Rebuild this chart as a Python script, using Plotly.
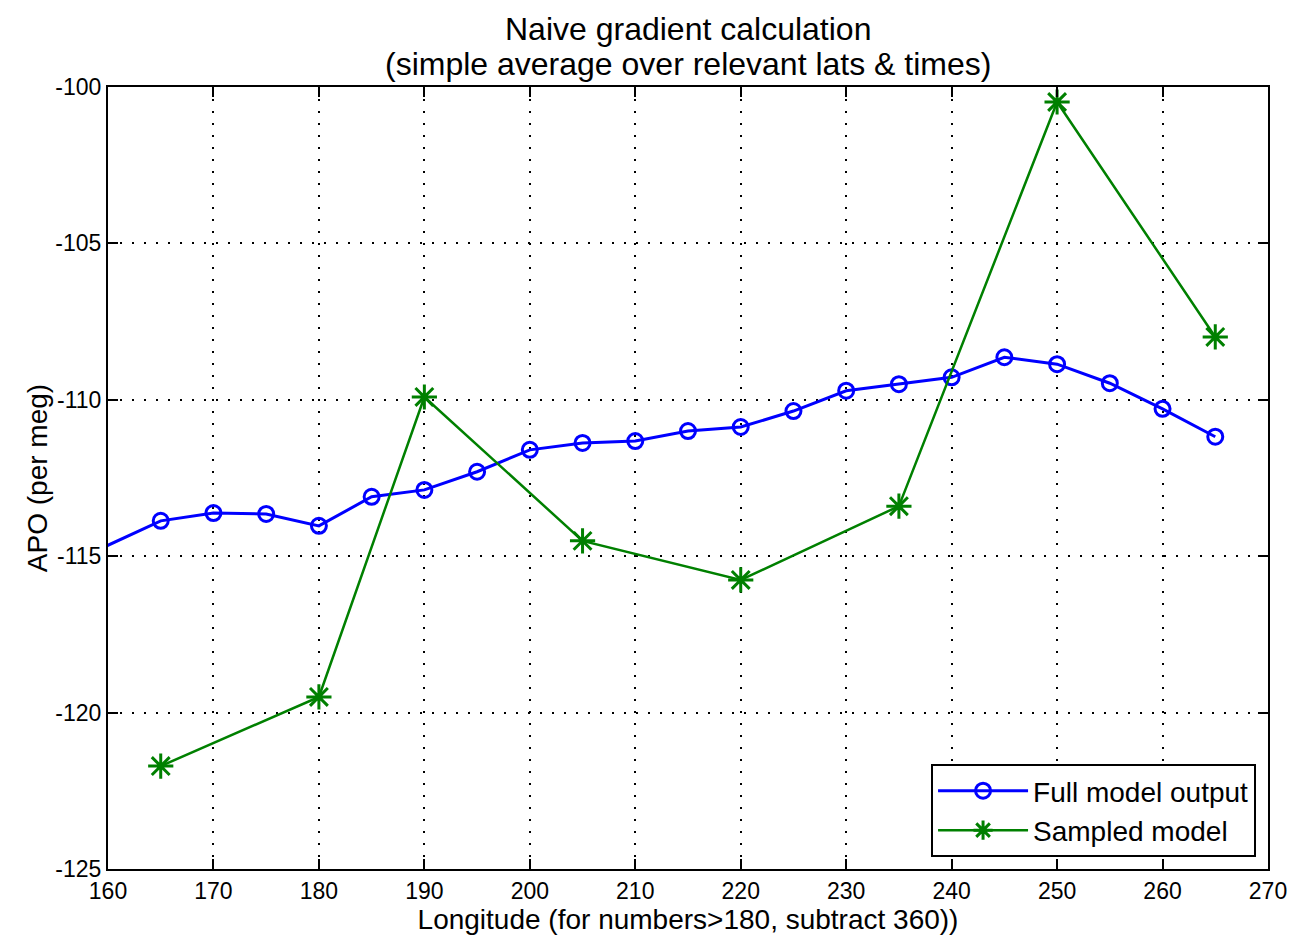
import plotly.graph_objects as go

# Data
full_lon = [155, 165, 170, 175, 180, 185, 190, 195, 200, 205, 210, 215, 220, 225, 230, 235, 240, 245, 250, 255, 260, 265]
full_apo = [-115.43, -113.87, -113.62, -113.65, -114.03, -113.1, -112.88, -112.3, -111.6, -111.38, -111.32,
            -111.0, -110.87, -110.36, -109.71, -109.5, -109.28, -108.64, -108.86, -109.47, -110.29, -111.18]
samp_lon = [165, 180, 190, 205, 220, 235, 250, 265]
samp_apo = [-121.71, -119.5, -109.91, -114.51, -115.76, -113.4, -100.48, -107.99]

x_ticks = [160, 170, 180, 190, 200, 210, 220, 230, 240, 250, 260, 270]
y_ticks = [-125, -120, -115, -110, -105, -100]

title_lines = ["Naive gradient calculation", "(simple average over relevant lats & times)"]

font = "Liberation Sans, Arial, sans-serif"

fig = go.Figure()
fig.add_trace(go.Scatter(
    x=full_lon, y=full_apo, mode="lines+markers", name="Full model output",
    line=dict(color="#0000FF", width=3),
    marker=dict(symbol="circle-open", size=15, color="#0000FF", line=dict(width=3)),
))
fig.add_trace(go.Scatter(
    x=samp_lon, y=samp_apo, mode="lines+markers", name="Sampled model",
    line=dict(color="#008000", width=2.5),
    marker=dict(symbol="asterisk-open", size=21, color="#008000", line=dict(width=3, color="#008000")),
    cliponaxis=False,
))

axis_common = dict(
    showline=True, linecolor="black", linewidth=2, mirror="ticks",
    ticks="inside", ticklen=10, tickwidth=2, tickcolor="black",
    showgrid=True, gridcolor="black", gridwidth=1.5, griddash="2px,10px",
    zeroline=False, tickfont=dict(family=font, size=23, color="black"),
)

fig.update_xaxes(
    range=[160, 270], tickvals=x_ticks, ticktext=[str(v) for v in x_ticks],
    title=dict(text="Longitude (for numbers>180, subtract 360))", font=dict(family=font, size=28, color="black"), standoff=2),
    **axis_common,
)
fig.update_yaxes(
    range=[-125, -100], tickvals=y_ticks, ticktext=[str(v) for v in y_ticks],
    title=dict(text="APO (per meg)", font=dict(family=font, size=28, color="black"), standoff=0),
    **axis_common,
)

plot_top, plot_h = 87, 782
annos = []
for line, ypx in zip(title_lines, [29, 64]):
    annos.append(dict(text=line, xref="paper", yref="paper", x=0.5, y=1 + (plot_top - ypx) / plot_h,
                      xanchor="center", yanchor="middle", showarrow=False,
                      font=dict(family=font, size=32, color="black")))

fig.update_layout(
    width=1299, height=938,
    margin=dict(l=108, r=26, t=87, b=69),
    paper_bgcolor="white", plot_bgcolor="white",
    annotations=annos,
    legend=dict(x=0.9897, y=0.0153, xanchor="right", yanchor="bottom",
                bordercolor="black", borderwidth=2, bgcolor="white",
                font=dict(family=font, size=28, color="black"),
                itemwidth=90, tracegroupgap=0),
    showlegend=True,
)

fig.write_html("out.html")
